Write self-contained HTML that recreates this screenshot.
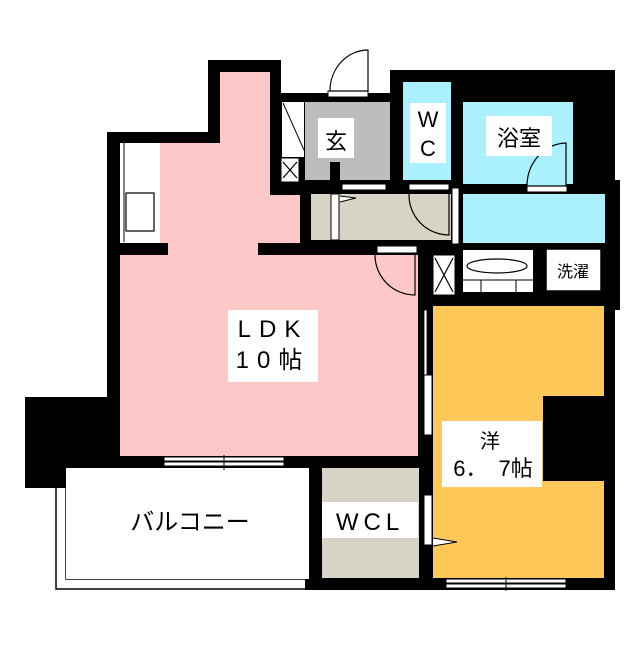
<!DOCTYPE html>
<html><head><meta charset="utf-8"><style>
html,body{margin:0;padding:0;background:#fff;}
svg text{font-family:"Liberation Sans","Noto Sans CJK JP",sans-serif;fill:#000;}
</style></head><body>
<svg width="640" height="640" viewBox="0 0 640 640" xmlns="http://www.w3.org/2000/svg">
<rect width="640" height="640" fill="#fff"/>
<path d="M56 487 V589 H310 M66 487 V579 H310" fill="none" stroke="#000" stroke-width="1.5"/>
<g fill="#000">
<rect x="208" y="60" width="73" height="140"/>
<rect x="107" y="132" width="200" height="338"/>
<rect x="270" y="93" width="190" height="162"/>
<rect x="390" y="70" width="195" height="235"/>
<rect x="575" y="70" width="40" height="240"/>
<rect x="300" y="180" width="320" height="130"/>
<rect x="418" y="290" width="197" height="300"/>
<rect x="305" y="455" width="130" height="135"/>
<rect x="107" y="240" width="320" height="230"/>
<rect x="25" y="397" width="93" height="91"/>
<rect x="309" y="468" width="12" height="122"/>
</g>
<!-- LDK pink -->
<path d="M220 72 H270 V195 H300 V243 H160 V143 H220 Z" fill="#ffc8c8"/>
<rect x="120" y="255" width="298" height="201" fill="#ffc8c8"/>
<rect x="168" y="242" width="90" height="14" fill="#ffc8c8"/>
<!-- kitchen -->
<rect x="120" y="143" width="40" height="100" fill="#fff"/>
<line x1="124" y1="143" x2="124" y2="242" stroke="#000" stroke-width="1"/>
<rect x="126" y="193" width="28" height="38" fill="#fff" stroke="#000" stroke-width="1.2"/>
<!-- entrance -->
<rect x="305" y="102" width="85" height="78" fill="#bdbdbd"/>
<rect x="282" y="102" width="22" height="55" fill="#fff"/>
<line x1="283" y1="103" x2="304" y2="150" stroke="#000" stroke-width="1"/>
<rect x="281" y="158" width="18" height="24" fill="#fff" stroke="#000"/>
<path d="M283 162 L297 178 M297 162 L283 178" stroke="#000" stroke-width="1.2"/>
<rect x="330" y="162" width="10" height="22" fill="#000"/>
<rect x="328" y="91" width="40" height="6" fill="#fff" stroke="#000"/>
<path d="M368 50 V91 H330 A38 41 0 0 1 368 50 Z" fill="#fff" stroke="#000" stroke-width="1.2"/>
<!-- WC -->
<rect x="403" y="82" width="48" height="98" fill="#aaf0ff"/>
<rect x="409" y="184" width="40" height="6" fill="#fff" stroke="#000"/>
<rect x="342" y="184" width="44" height="6" fill="#fff" stroke="#000"/>
<!-- bath -->
<rect x="463" y="102" width="110" height="82" fill="#aaf0ff"/>
<rect x="527" y="186" width="40" height="6" fill="#fff" stroke="#000"/>
<path d="M566 143 V186 H527 A40 43 0 0 1 566 143 Z" fill="#aaf0ff" stroke="#000" stroke-width="1.2"/>
<!-- hallway -->
<rect x="311" y="194" width="140" height="46" fill="#d7d4c6"/>
<rect x="331" y="194" width="8" height="46" fill="#fff" stroke="#000"/>
<path d="M340 196 L356 198 L340 202" fill="#fff" stroke="#000"/>
<path d="M449 194 V235 A40 40 0 0 1 409 194" fill="none" stroke="#000" stroke-width="1.2"/>
<rect x="452" y="188" width="7" height="56" fill="#fff" stroke="#000"/>
<!-- wash -->
<rect x="463" y="194" width="142" height="49" fill="#aaf0ff"/>
<rect x="463" y="250" width="70" height="42" fill="#fff"/>
<ellipse cx="497" cy="266" rx="30" ry="7" fill="#fff" stroke="#000" stroke-width="1.2"/>
<path d="M463 280 H533 M481 280 V292 M516 280 V292" stroke="#000" fill="none"/>
<rect x="546" y="249" width="55" height="42" fill="#fff" stroke="#000" stroke-width="1.5"/>
<text x="573" y="277" font-size="16" text-anchor="middle">洗濯</text>
<rect x="433" y="255" width="22" height="40" fill="#fff" stroke="#000"/>
<path d="M435 258 L453 292 M453 258 L435 292" stroke="#000" stroke-width="1.2"/>
<!-- LDK door -->
<rect x="377" y="246" width="40" height="7" fill="#fff" stroke="#000"/>
<path d="M415 255 V295 A40 40 0 0 1 375 255" fill="none" stroke="#000" stroke-width="1.2"/>
<!-- Yo room -->
<rect x="433" y="306" width="171" height="272" fill="#fec958"/>
<rect x="543" y="396" width="72" height="85" fill="#000"/>
<rect x="424" y="310" width="3" height="65" fill="#fff" stroke="#000" stroke-width="0.8"/>
<rect x="424" y="375" width="8" height="60" fill="#fff" stroke="#000"/>
<rect x="424" y="495" width="8" height="50" fill="#fff" stroke="#000"/>
<path d="M433 538 L457 542 L433 546" fill="#fff" stroke="#000"/>
<rect x="446" y="579" width="120" height="4" fill="#fff" stroke="#000"/>
<rect x="446" y="584" width="120" height="4" fill="#fff" stroke="#000"/>
<line x1="506" y1="577" x2="506" y2="591" stroke="#000"/>
<!-- WCL -->
<rect x="322" y="468" width="97" height="110" fill="#d7d4c6"/>
<!-- balcony -->
<rect x="66" y="468" width="243" height="111" fill="#fff"/>
<rect x="164" y="457" width="120" height="4" fill="#fff" stroke="#000"/>
<rect x="164" y="462" width="120" height="4" fill="#fff" stroke="#000"/>
<line x1="224" y1="455" x2="224" y2="470" stroke="#000"/>
<!-- labels -->
<rect x="318" y="118" width="36" height="40" fill="#fff"/>
<text x="336" y="149" font-size="22" text-anchor="middle">玄</text>
<rect x="410" y="103" width="36" height="60" fill="#fff"/>
<text x="428" y="127" font-size="22" text-anchor="middle">W</text>
<text x="428" y="156" font-size="22" text-anchor="middle">C</text>
<rect x="486" y="116" width="66" height="40" fill="#fff"/>
<text x="519" y="146" font-size="22" text-anchor="middle">浴室</text>
<rect x="228" y="310" width="90" height="72" fill="#fff"/>
<text x="273" y="337" font-size="24" text-anchor="middle" letter-spacing="8">LDK</text>
<text x="273" y="368" font-size="24" text-anchor="middle" letter-spacing="8">10帖</text>
<rect x="442" y="421" width="100" height="66" fill="#fff"/>
<text x="490" y="448" font-size="20" text-anchor="middle">洋</text>
<text x="493" y="476" font-size="22" text-anchor="middle">6．　7帖</text>
<rect x="322" y="502" width="96" height="36" fill="#fff"/>
<text x="370" y="530" font-size="24" text-anchor="middle" letter-spacing="5">WCL</text>
<text x="190" y="530" font-size="24" text-anchor="middle">バルコニー</text>
</svg>
</body></html>
